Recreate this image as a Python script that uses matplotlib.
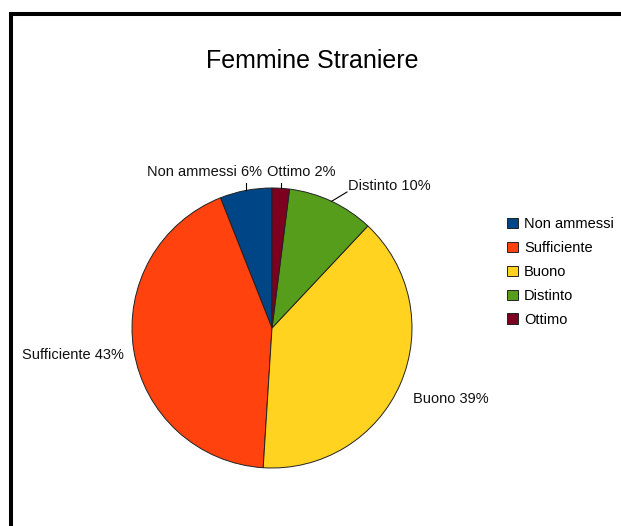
import matplotlib.pyplot as plt
import numpy as np

plt.rcParams["font.family"] = ["Liberation Sans", "DejaVu Sans"]

categorie = ["Non ammessi", "Sufficiente", "Buono", "Distinto", "Ottimo"]
percentuali = [6, 43, 39, 10, 2]
colori = ["#004586", "#ff420e", "#ffd320", "#579d1c", "#7e0021"]

W, H = 621, 526
fig = plt.figure(figsize=(W / 100, H / 100), dpi=100)
ax = fig.add_axes([0, 0, 1, 1])

# cornice nera (sinistra e sopra)
ax.plot([11, 11], [0, H - 14], color="black", lw=2.9, solid_capstyle="projecting")
ax.plot([11, W], [H - 14, H - 14], color="black", lw=2.9, solid_capstyle="projecting")

cx, cy, r = 272, 198, 140
wedges, _ = ax.pie(
    percentuali,
    colors=colori,
    startangle=90,
    counterclock=True,
    center=(cx, cy),
    radius=r,
    wedgeprops=dict(edgecolor="#222222", linewidth=0.7),
    frame=True,
)
ax.set_xlim(0, W)
ax.set_ylim(0, H)
ax.set_aspect("equal")
ax.axis("off")

etichette = [f"{c} {p}%" for c, p in zip(categorie, percentuali)]

# posizione del testo: (x, y, allineamento, linea guida)
posizioni = [
    (262, 354, "right", "v"),
    (124, 171, "right", None),
    (413, 127, "left", None),
    (348, 340, "left", (347, 334)),
    (301, 354, "center", "v"),
]

for w, testo, (tx, ty, ha, guida) in zip(wedges, etichette, posizioni):
    ang = np.deg2rad((w.theta1 + w.theta2) / 2)
    ex, ey = cx + r * np.cos(ang), cy + r * np.sin(ang)
    ax.text(tx, ty, testo, ha=ha, va="center", fontsize=10.5, color="#111111")
    if guida == "v":
        ax.plot([ex, ex], [ey, 343], color="black", lw=0.8)
    elif guida is not None:
        ax.plot([ex, guida[0]], [ey, guida[1]], color="black", lw=0.8)

fig.text(312.5 / W, 1 - 61 / H, "Femmine Straniere", ha="center", va="center", fontsize=18)

leg = ax.legend(
    wedges,
    categorie,
    loc="upper left",
    bbox_to_anchor=(497 / W, 1 - 207 / H),
    bbox_transform=fig.transFigure,
    frameon=False,
    fontsize=10.5,
    handlelength=0.75,
    handleheight=0.75,
    handletextpad=0.4,
    labelspacing=0.68,
    borderpad=0.2,
)

fig.savefig("out.png", dpi=100)
